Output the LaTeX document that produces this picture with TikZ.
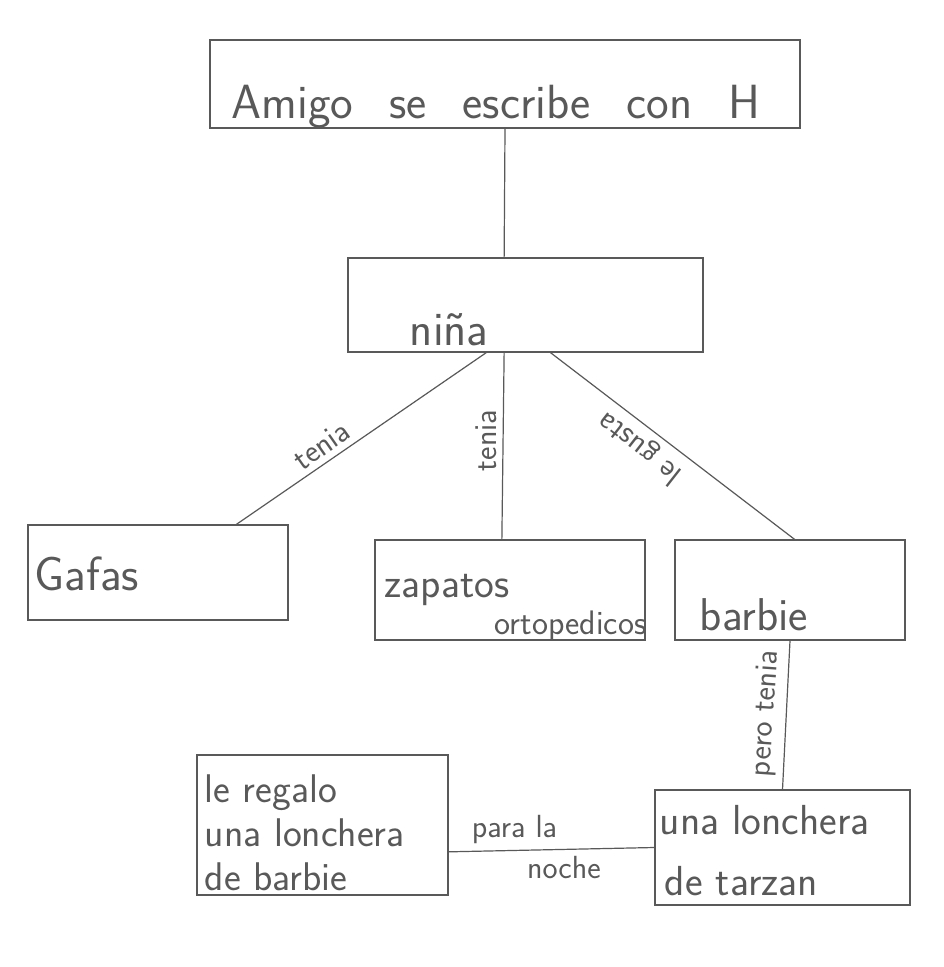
\documentclass[tikz,border=0pt]{standalone}
\usetikzlibrary{calc}
\begin{document}
\begin{tikzpicture}[x=0.5pt,y=-0.5pt,
    box/.style={draw=black!65,line width=0.6pt,inner sep=0pt},
    txt/.style={text=black!65,font=\sffamily\fontsize{21}{22}\selectfont,inner sep=0pt,align=left},
    lbl/.style={text=black!65,font=\sffamily\fontsize{16}{18}\selectfont,inner sep=3pt},
    link/.style={draw=black!65,line width=0.6pt}]
    \useasboundingbox[fill=white] (0,0) rectangle (943,967);
    % boxes
    \node[box,minimum width=295pt,minimum height=44pt] (amigo) at (505,84) {};
    \node[box,minimum width=177.5pt,minimum height=47pt] (nina) at (525.5,305) {};
    \node[box,minimum width=130pt,minimum height=47.5pt] (gafas) at (158,572.5) {};
    \node[box,minimum width=135pt,minimum height=50pt] (zapatos) at (510,590) {};
    \node[box,minimum width=115pt,minimum height=50pt] (barbie) at (790,590) {};
    \node[box,minimum width=125.5pt,minimum height=70pt] (regalo) at (322.5,825) {};
    \node[box,minimum width=127.5pt,minimum height=57.5pt] (tarzan) at (782.5,847.5) {};
    % texts
    \node[txt,anchor=base west,font=\sffamily\fontsize{24}{26}\selectfont] (amigoT) at ($(amigo.south west)+(22,-10)$) {\spaceskip=18pt Amigo se escribe con H};
    \node[txt,anchor=base west,font=\sffamily\fontsize{24}{26}\selectfont] (ninaT) at ($(nina.south west)+(62,-7)$) {niña};
    \node[txt,anchor=base west,font=\sffamily\fontsize{24}{26}\selectfont] (gafasT) at ($(gafas.south west)+(7,-30)$) {Gafas};
    \node[txt,anchor=base west] (zapatosT) at ($(zapatos.north west)+(10,58)$) {zapatos};
    \node[txt,anchor=base west,font=\sffamily\fontsize{17}{20}\selectfont] (ortoT) at ($(zapatos.south west)+(120,-6)$) {ortopedicos};
    \node[txt,anchor=base west,font=\sffamily\fontsize{23}{26}\selectfont] (barbieT) at ($(barbie.south west)+(25,-10)$) {barbie};
    \node[txt,anchor=north west,font=\sffamily\fontsize{20}{22}\selectfont] (regaloT) at ($(regalo.north west)+(8,20)$) {le regalo\\una lonchera\\de barbie};
    \node[txt,anchor=base west] (tarzanA) at ($(tarzan.north west)+(5,45)$) {una lonchera};
    \node[txt,anchor=base west] (tarzanB) at ($(tarzan.south west)+(10,-10)$) {de tarzan};
    % links
    \draw[link] (amigo.south) -- ($(nina.north west)!0.44!(nina.north east)$);
    \draw[link] ($(nina.south west)!0.39!(nina.south east)$) -- node[lbl,pos=0.62,rotate=35,above] (t1) {tenia} ($(gafas.north west)!0.8!(gafas.north east)$);
    \draw[link] ($(nina.south west)!0.44!(nina.south east)$) -- node[lbl,pos=0.47,rotate=90,above] (t2) {tenia} ($(zapatos.north west)!0.47!(zapatos.north east)$);
    \draw[link] ($(nina.south west)!0.57!(nina.south east)$) -- node[lbl,pos=0.42,rotate=142,above] (t3) {le gusta} ($(barbie.north west)!0.52!(barbie.north east)$);
    \draw[link] (barbie.south) -- node[lbl,pos=0.5,rotate=86,above] (t4) {pero tenia} (tarzan.north);
    \draw[link] ($(regalo.north east)!0.69!(regalo.south east)$) -- node[lbl,pos=0.32,above] (t5) {para la} node[lbl,pos=0.56,below] (t6) {noche} (tarzan.west);
\end{tikzpicture}
\end{document}
